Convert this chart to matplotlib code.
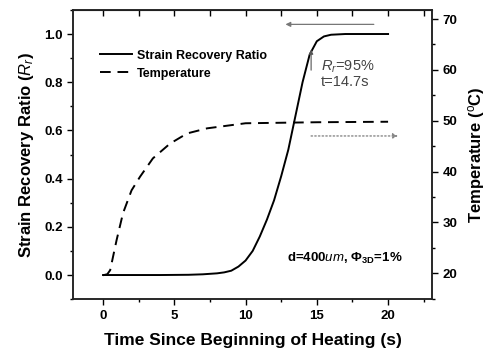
import matplotlib
matplotlib.use("Agg")
import matplotlib.pyplot as plt
from matplotlib.ticker import MultipleLocator

plt.rcParams['font.family'] = ['Liberation Sans', 'DejaVu Sans']
plt.rcParams['mathtext.fontset'] = 'custom'
plt.rcParams['mathtext.rm'] = 'Liberation Sans'
plt.rcParams['mathtext.it'] = 'Liberation Sans:italic'
plt.rcParams['mathtext.bf'] = 'Liberation Sans:bold'

# strain recovery ratio vs time
strain_t = [0, 2, 4, 6, 7, 8, 8.5, 9, 9.5, 10, 10.5, 11, 11.5, 12, 12.5, 13,
            13.5, 14, 14.5, 15, 15.5, 16, 17, 18, 19, 20]
strain_r = [0, 0, 0, 0.001, 0.003, 0.007, 0.011, 0.018, 0.035, 0.06, 0.10, 0.16,
            0.23, 0.31, 0.41, 0.52, 0.66, 0.80, 0.915, 0.97, 0.99, 0.997, 1.0,
            1.0, 1.0, 1.0]

# temperature vs time (right axis)
temp_t = [0, 0.3, 0.5, 0.95, 1.4, 2.0, 2.6, 3.5, 4.7, 5.9, 7.3, 10, 15, 20]
temp_c = [19.6, 19.8, 20.6, 26.5, 31.8, 36.3, 39.0, 42.6, 45.5, 47.5, 48.5,
          49.5, 49.7, 49.8]

xticks = [0, 5, 10, 15, 20]
yticks_left = [0.0, 0.2, 0.4, 0.6, 0.8, 1.0]
yticks_right = [20, 30, 40, 50, 60, 70]

fig = plt.figure(figsize=(4.94, 3.54), dpi=100)
ax = fig.add_axes([0.148, 0.155, 0.727, 0.817])
ax2 = ax.twinx()

l1, = ax.plot(strain_t, strain_r, color="black", lw=1.4, label="Strain Recovery Ratio")
l2, = ax2.plot(temp_t, temp_c, color="black", lw=1.4, linestyle=(0, (5.5, 3.5)),
               label="Temperature")

ax.set_xlim(-2.1, 23.1)
ax.set_ylim(-0.1, 1.1)
ax2.set_ylim(14.9, 71.8)

ax.set_xticks(xticks)
ax.set_yticks(yticks_left)
ax2.set_yticks(yticks_right)
ax.xaxis.set_minor_locator(MultipleLocator(2.5))
ax.yaxis.set_minor_locator(MultipleLocator(0.1))
ax2.yaxis.set_minor_locator(MultipleLocator(5))

ax.tick_params(axis="both", which="major", direction="out", length=4, width=1,
               labelsize=9.5)
ax.tick_params(axis="both", which="minor", direction="out", length=2.5, width=1)
ax2.tick_params(axis="y", which="major", direction="out", length=4, width=1,
                labelsize=9.5)
ax2.tick_params(axis="y", which="minor", direction="out", length=2.5, width=1)
for lab in ax.get_xticklabels() + ax.get_yticklabels() + ax2.get_yticklabels():
    lab.set_fontweight("bold")
ax.set_yticklabels(["%.1f" % v for v in yticks_left], fontweight="bold")

# top ticks point inward
top = ax.secondary_xaxis("top")
top.set_xticks(xticks)
top.xaxis.set_minor_locator(MultipleLocator(2.5))
top.tick_params(axis="x", which="major", direction="in", length=4, width=1, labeltop=False)
top.tick_params(axis="x", which="minor", direction="in", length=4, width=1)

for a in (ax, ax2):
    for s in a.spines.values():
        s.set_linewidth(1.1)
        s.set_color("#222222")

ax.set_xlabel("Time Since Beginning of Heating (s)", fontsize=12.5, fontweight="bold",
              labelpad=8)
ax.set_ylabel(r"Strain Recovery Ratio ($\mathbf{\mathit{R}_{\mathit{r}}}$)", fontsize=12,
              fontweight="bold", labelpad=6)
ax2.set_ylabel(r"Temperature ($^{\mathrm{o}}$C)", fontsize=12, fontweight="bold",
               labelpad=6)

ax.legend(handles=[l1, l2], loc="upper left", bbox_to_anchor=(0.06, 0.88), frameon=False,
          prop={"weight": "bold", "size": 9}, handlelength=2.6, handletextpad=0.4,
          labelspacing=0.5, borderaxespad=0)

# arrows
ax.annotate("", xy=(12.8, 1.04), xytext=(19.0, 1.04),
            arrowprops=dict(arrowstyle="-|>", color="#777777", lw=0.9,
                            mutation_scale=7, shrinkA=0, shrinkB=0))
ax.annotate("", xy=(20.7, 0.577), xytext=(14.6, 0.577),
            arrowprops=dict(arrowstyle="-|>", color="#888888", lw=1.0, linestyle=":",
                            mutation_scale=7, shrinkA=0, shrinkB=0))
ax.annotate("", xy=(14.6, 0.935), xytext=(14.6, 0.85),
            arrowprops=dict(arrowstyle="-|>", color="#555555", lw=0.8,
                            mutation_scale=6, shrinkA=0, shrinkB=0))

ax.text(15.3, 0.865, r"$\mathit{R}_{\mathit{r}}$=95%", fontsize=10.5, color="#444444",
        va="center", ha="left")
ax.text(15.3, 0.80, "t=14.7s", fontsize=10.5, color="#444444", va="center", ha="left")
ax.text(12.9, 0.07, r"d=400$\mathbf{\mathit{um}}$, $\mathbf{\Phi_{3D}}$=1%", fontsize=9.5,
        fontweight="bold", va="center", ha="left")

fig.savefig("out.png", dpi=100)
